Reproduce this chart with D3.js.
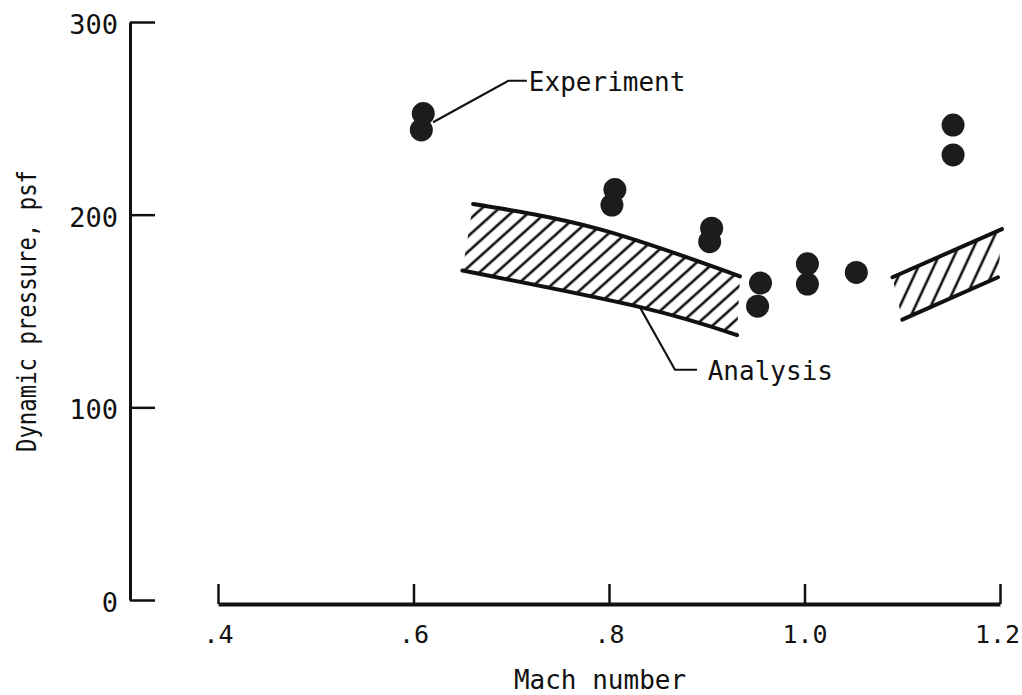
<!DOCTYPE html>
<html>
<head>
<meta charset="utf-8">
<script src="https://cdn.jsdelivr.net/npm/d3@7"></script>
<style>
  body { margin: 0; background: #fff; }
  text { font-family: "DejaVu Sans Mono", "Liberation Mono", monospace; fill: #111; }
</style>
</head>
<body>
<div id="chart"></div>
<script>
// Experiment points (Mach number, dynamic pressure psf)
const expMach = [0.61, 0.608, 0.806, 0.803, 0.905, 0.903, 0.955, 0.952, 1.003, 1.003, 1.053, 1.152, 1.152];
const expQ    = [252.5, 244, 213, 205, 193, 186, 164.5, 152.5, 174.5, 164, 170, 246.5, 231];

// Analysis bands (upper and lower boundary)
const band1UpperMach = [0.661, 0.79, 0.934];
const band1UpperQ    = [205.5, 192.5, 168];
const band1LowerMach = [0.650, 0.832, 0.931];
const band1LowerQ    = [171, 152, 137.5];

const band2UpperMach = [1.09, 1.202];
const band2UpperQ    = [167.5, 192.5];
const band2LowerMach = [1.10, 1.198];
const band2LowerQ    = [145.5, 167.5];

// ticks
const xTicks = [0.4, 0.6, 0.8, 1.0, 1.2];
const xTickLabels = [".4", ".6", ".8", "1.0", "1.2"];
const yTicks = [0, 100, 200, 300];

// leader lines for the labels
const expLeaderMach = [0.62, 0.697, 0.716];
const expLeaderQ    = [248, 269.5, 269.5];
const anaLeaderMach = [0.832, 0.8675, 0.890];
const anaLeaderQ    = [151.6, 119.5, 119.5];

const w = 1022, h = 695;

const svg = d3.select("#chart")
  .append("svg")
  .attr("width", w)
  .attr("height", h);

const xScale = d3.scaleLinear().domain([0.4, 1.2]).range([218, 1000]);
const yScale = d3.scaleLinear().domain([0, 300]).range([600, 22]);

// x axis - ticks point up, separate from y axis
const xAxis = d3.axisBottom(xScale)
  .tickValues(xTicks)
  .tickFormat((d, i) => xTickLabels[i])
  .tickSizeInner(-20)
  .tickSizeOuter(0)
  .tickPadding(21);

const gx = svg.append("g")
  .attr("transform", "translate(0,604)")
  .call(xAxis);
gx.select(".domain").attr("stroke", "#111").attr("stroke-width", 4);
gx.selectAll(".tick line").attr("stroke", "#111").attr("stroke-width", 2.5);
gx.selectAll(".tick text")
  .style("font-family", "DejaVu Sans Mono")
  .style("font-size", "25px")
  .attr("fill", "#111")
  .attr("dx", (d, i) => i == xTicks.length - 1 ? -3 : 0);

// y axis - ticks point right
const yAxis = d3.axisLeft(yScale)
  .tickValues(yTicks)
  .tickFormat(d3.format("d"))
  .tickSizeInner(-25)
  .tickSizeOuter(0)
  .tickPadding(12);

const gy = svg.append("g")
  .attr("transform", "translate(130,0)")
  .call(yAxis);
gy.select(".domain").attr("stroke", "#111").attr("stroke-width", 3);
gy.selectAll(".tick line").attr("stroke", "#111").attr("stroke-width", 2.5);
gy.selectAll(".tick text")
  .style("font-family", "DejaVu Sans Mono")
  .style("font-size", "27px")
  .attr("fill", "#111")
  .attr("dy", "0.42em");

// axis titles
svg.append("text")
  .attr("x", 600)
  .attr("y", 680)
  .attr("dy", "0.35em")
  .style("text-anchor", "middle")
  .style("font-size", "26px")
  .text("Mach number");

svg.append("text")
  .attr("transform", "translate(27,311) rotate(-90)")
  .attr("dy", "0.35em")
  .style("text-anchor", "middle")
  .style("font-size", "26px")
  .attr("textLength", 282)
  .attr("lengthAdjust", "spacingAndGlyphs")
  .text("Dynamic pressure, psf");

// hatch patterns
const defs = svg.append("defs");
function hatch(id, angle, gap) {
  const p = defs.append("pattern")
    .attr("id", id)
    .attr("patternUnits", "userSpaceOnUse")
    .attr("width", gap)
    .attr("height", gap)
    .attr("patternTransform", "rotate(" + angle + ")");
  p.append("line")
    .attr("x1", gap / 2).attr("y1", 0)
    .attr("x2", gap / 2).attr("y2", gap)
    .attr("stroke", "#111")
    .attr("stroke-width", 2.6);
}
hatch("hatch1", 48, 11.5);
hatch("hatch2", 25, 14);

const line = d3.line()
  .x(d => xScale(d[0]))
  .y(d => yScale(d[1]))
  .curve(d3.curveNatural);

function zip(a, b) { return a.map((v, i) => [v, b[i]]); }

function drawBand(upM, upQ, loM, loQ, pat) {
  const up = zip(upM, upQ);
  const lo = zip(loM, loQ);
  // fill region: upper line then lower line reversed
  const outline = line(up) + "L" + line(lo.slice().reverse()).slice(1) + "Z";
  svg.append("path")
    .attr("d", outline)
    .attr("fill", "url(#" + pat + ")")
    .attr("stroke", "none");
  [up, lo].forEach(pts => {
    svg.append("path")
      .attr("d", line(pts))
      .attr("fill", "none")
      .attr("stroke", "#111")
      .attr("stroke-width", 4)
      .attr("stroke-linecap", "round");
  });
}
drawBand(band1UpperMach, band1UpperQ, band1LowerMach, band1LowerQ, "hatch1");
drawBand(band2UpperMach, band2UpperQ, band2LowerMach, band2LowerQ, "hatch2");

// experiment points
svg.selectAll("circle.dot")
  .data(zip(expMach, expQ))
  .enter()
  .append("circle")
  .attr("class", "dot")
  .attr("cx", d => xScale(d[0]))
  .attr("cy", d => yScale(d[1]))
  .attr("r", 11.5)
  .style("fill", "#1c1c1c");

// leaders + labels
const leader = d3.line()
  .x(d => xScale(d[0]))
  .y(d => yScale(d[1]));

svg.append("path")
  .attr("d", leader(zip(expLeaderMach, expLeaderQ)))
  .attr("fill", "none")
  .attr("stroke", "#111")
  .attr("stroke-width", 2.2);
svg.append("text")
  .attr("x", xScale(0.717) + 1)
  .attr("y", yScale(269.5))
  .attr("dy", "0.4em")
  .style("font-size", "26px")
  .text("Experiment");

svg.append("path")
  .attr("d", leader(zip(anaLeaderMach, anaLeaderQ)))
  .attr("fill", "none")
  .attr("stroke", "#111")
  .attr("stroke-width", 2.2);
svg.append("text")
  .attr("x", xScale(0.901))
  .attr("y", yScale(119.5))
  .attr("dy", "0.4em")
  .style("font-size", "26px")
  .text("Analysis");
</script>
</body>
</html>
